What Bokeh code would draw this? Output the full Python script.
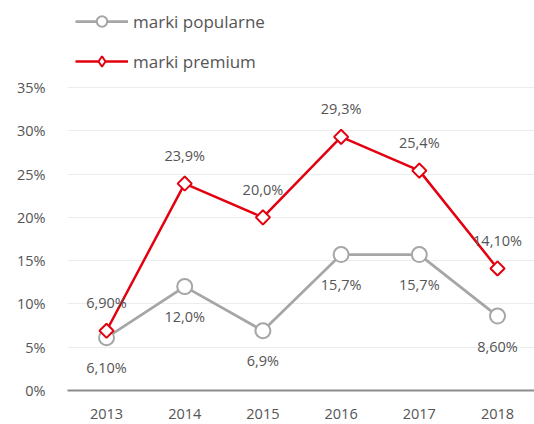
import math
from bokeh.plotting import figure
from bokeh.models import ColumnDataSource, Legend, LegendItem, PrintfTickFormatter, Range1d, FixedTicker
from bokeh.core.properties import value
from bokeh.embed import file_html
from bokeh.resources import INLINE

years = [2013, 2014, 2015, 2016, 2017, 2018]
popularne = [6.1, 12.0, 6.9, 15.7, 15.7, 8.6]
premium = [6.9, 23.9, 20.0, 29.3, 25.4, 14.1]
popularne_labels = ["6,10%", "12,0%", "6,9%", "15,7%", "15,7%", "8,60%"]
premium_labels = ["6,90%", "23,9%", "20,0%", "29,3%", "25,4%", "14,10%"]
y_ticks = [0, 5, 10, 15, 20, 25, 30, 35]

FONT = "Open Sans"
GREY = "#a6a6a6"
RED = "#e3000f"
TXT = "#555555"

src_pop = ColumnDataSource(dict(x=years, y=popularne, t=popularne_labels))
src_pre = ColumnDataSource(dict(x=years, y=premium, t=premium_labels))

# frame spans full height above the x axis; grid/ticks stop at 35%
p = figure(width=534, height=424, output_backend="svg", toolbar_location=None,
           x_range=Range1d(2012.501, 2018.473), y_range=Range1d(0, 45.05),
           min_border_left=67, min_border_right=0, min_border_top=0, min_border_bottom=34)
p.outline_line_color = None
p.background_fill_color = "white"
p.border_fill_color = "white"

p.xaxis.ticker = FixedTicker(ticks=years)
p.yaxis.ticker = FixedTicker(ticks=y_ticks)
p.yaxis.formatter = PrintfTickFormatter(format="%d%%")
for ax in (p.xaxis[0], p.yaxis[0]):
    ax.major_tick_line_color = None
    ax.minor_tick_line_color = None
    ax.major_label_text_font = FONT
    ax.major_label_text_font_size = "14.5px"
    ax.major_label_text_color = TXT
p.yaxis.axis_line_color = None
p.yaxis.major_label_standoff = 16
p.xaxis.axis_line_color = "#8c8c8c"
p.xaxis.axis_line_width = 2
p.xaxis.major_label_standoff = 12
p.xgrid.grid_line_color = None
p.ygrid.grid_line_color = "#ececec"
p.ygrid.grid_line_width = 1

l1 = p.line("x", "y", source=src_pop, line_color=GREY, line_width=2.75)
s1 = p.scatter("x", "y", source=src_pop, marker="circle", size=15, fill_color="white",
               line_color=GREY, line_width=2)
l2 = p.line("x", "y", source=src_pre, line_color=RED, line_width=2.5)
s2 = p.scatter("x", "y", source=src_pre, marker="square", size=10, angle=math.pi / 4,
               fill_color="white", line_color=RED, line_width=2)

# legend-only marker renderers (hidden in the plot)
lg1 = p.scatter("x", "y", source=src_pop, marker="circle", size=12, fill_color="white",
                line_color=GREY, line_width=2, visible=False)
lg2 = p.scatter("x", "y", source=src_pre, marker="diamond", size=14, fill_color="white",
                line_color=RED, line_width=2, visible=False)

p.text("x", "y", text="t", source=src_pop, y_offset=30, text_align="center",
       text_baseline="middle", text_font=value(FONT), text_font_size="14.5px", text_color=TXT)
p.text("x", "y", text="t", source=src_pre, y_offset=-28, text_align="center",
       text_baseline="middle", text_font=value(FONT), text_font_size="14.5px", text_color=TXT)

legend = Legend(items=[LegendItem(label="marki popularne", renderers=[l1, lg1]),
                       LegendItem(label="marki premium", renderers=[l2, lg2])],
                location=(8, 316), orientation="vertical",
                glyph_width=53, glyph_height=26, label_height=26, spacing=14,
                label_text_font=FONT, label_text_font_size="17px", label_text_color=TXT,
                label_standoff=5, padding=0, margin=0,
                inactive_fill_alpha=0,
                border_line_color=None, background_fill_alpha=0)
p.add_layout(legend, "center")

open("out.html", "w").write(file_html(p, INLINE))
